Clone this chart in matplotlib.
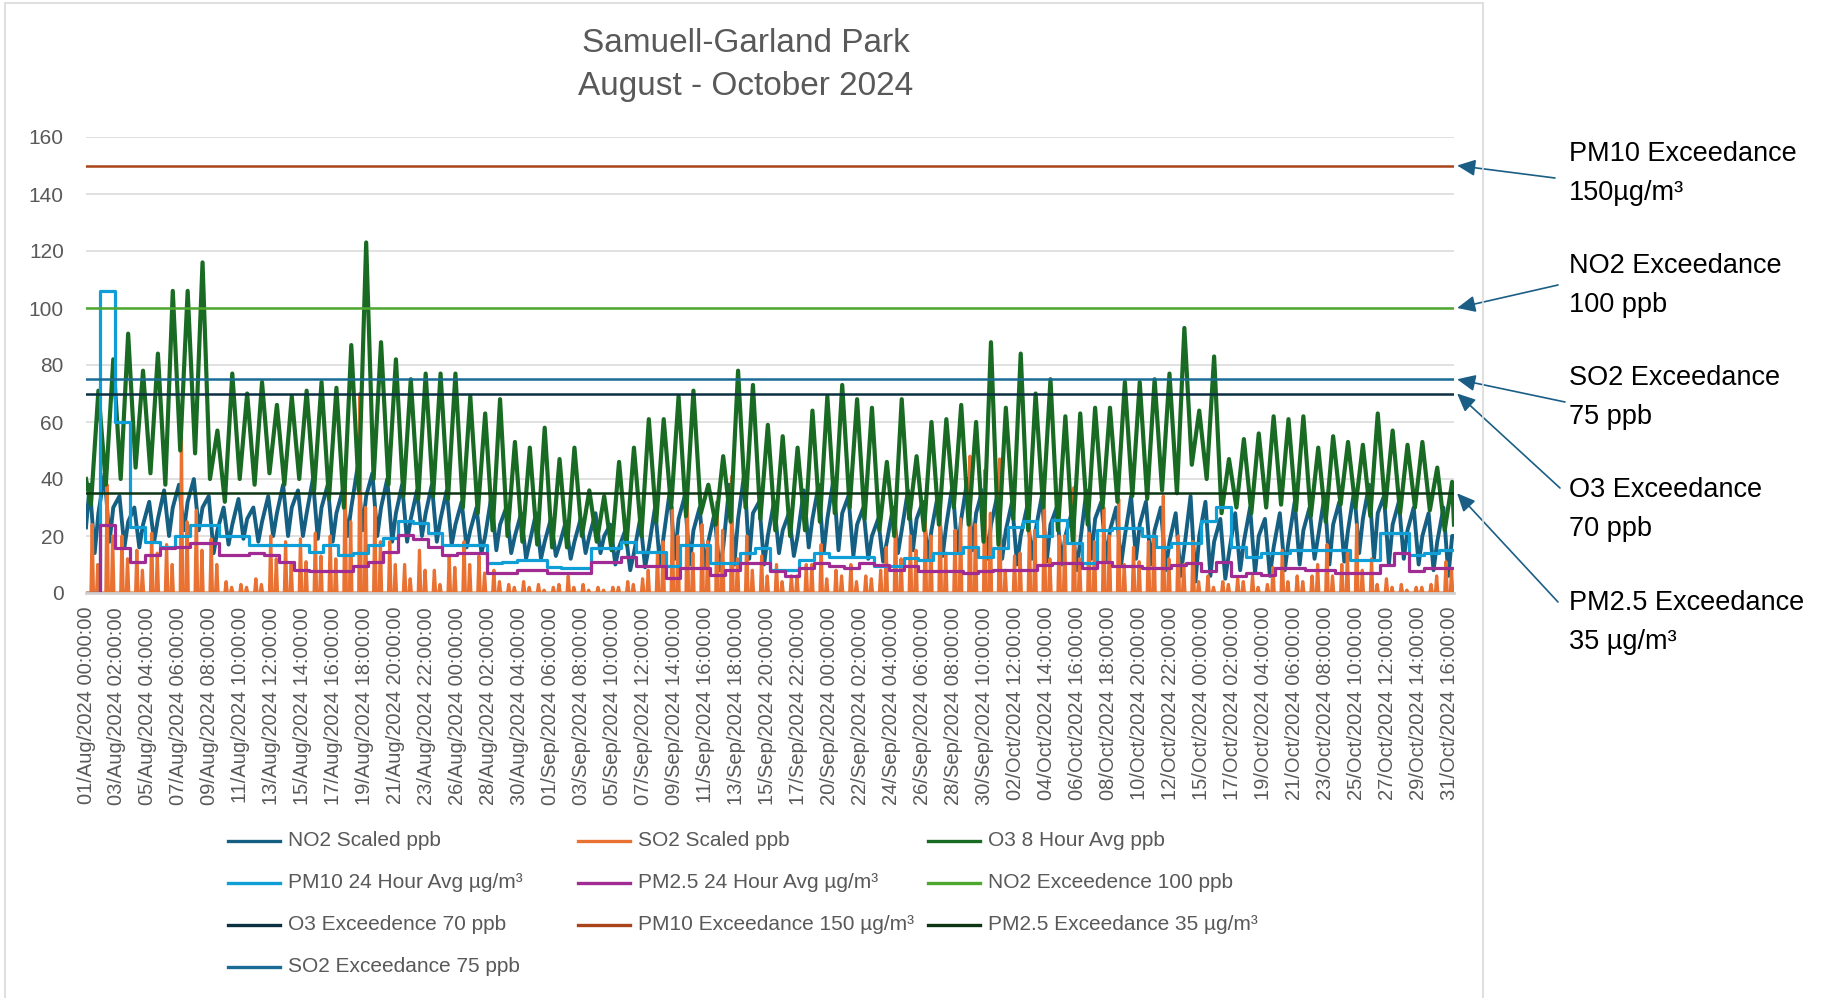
#Importing necessary libraries
import numpy as np
import pandas as pd
import matplotlib
matplotlib.use("Agg")
from matplotlib import pyplot as plt
from matplotlib.lines import Line2D
from matplotlib.patches import Rectangle

#Hourly timeline used by the category axis
times = pd.date_range("2024-08-01 00:00", "2024-10-31 23:00", freq="h")
hours = np.arange(len(times))
n_days = 92
tick_labels = list(times[::50].strftime("%d/%b/%Y %H:%M:%S"))

#O3 8 hour average, daily low (morning) and daily high (evening), ppb
o3_first = 40
o3_last = 24
o3_low = [31, 38, 40, 44, 42, 38, 50, 49, 40, 32,
          40, 38, 42, 38, 40, 36, 33, 30, 36, 40,
          38, 34, 33, 34, 33, 30, 28, 22, 20, 18,
          17, 16, 16, 20, 18, 15, 17, 20, 25, 30,
          27, 28, 24, 25, 30, 26, 22, 20, 22, 25,
          28, 30, 26, 22, 20, 26, 22, 24, 30, 24,
          18, 17, 26, 22, 30, 22, 18, 24, 30, 32,
          34, 33, 36, 35, 45, 40, 28, 30, 28, 30,
          31, 29, 27, 25, 31, 30, 27, 30, 28, 30,
          29, 22]
o3_high = [71, 82, 91, 78, 84, 106, 106, 116, 57, 77,
           70, 74, 66, 69, 71, 74, 72, 87, 123, 88,
           82, 75, 77, 77, 77, 69, 63, 68, 53, 51,
           58, 47, 51, 36, 34, 46, 51, 61, 61, 69,
           71, 38, 48, 78, 73, 59, 55, 51, 64, 69,
           73, 68, 65, 46, 68, 48, 60, 61, 66, 60,
           88, 65, 84, 70, 75, 62, 63, 65, 65, 74,
           74, 75, 77, 93, 64, 83, 47, 54, 56, 62,
           61, 62, 51, 55, 53, 52, 63, 57, 52, 53,
           44, 39]

#NO2 scaled, morning high, afternoon low and evening reading, ppb
no2_first = 23
no2_last = 20
no2_high = [38, 42, 34, 30, 32, 36, 38, 40, 34, 30,
            33, 30, 34, 38, 36, 40, 38, 36, 44, 42,
            40, 38, 36, 38, 36, 32, 30, 34, 30, 28,
            28, 26, 25, 26, 28, 24, 22, 26, 30, 36,
            34, 30, 28, 38, 42, 32, 32, 28, 36, 38,
            40, 34, 30, 26, 30, 36, 32, 34, 38, 40,
            36, 34, 32, 30, 34, 30, 28, 36, 32, 30,
            34, 32, 30, 28, 34, 32, 26, 28, 30, 26,
            28, 32, 30, 34, 32, 36, 38, 34, 32, 30,
            28, 30]
no2_low = [14, 18, 16, 16, 18, 20, 22, 22, 14, 17,
           19, 18, 20, 20, 20, 19, 18, 20, 22, 20,
           18, 18, 20, 18, 17, 16, 14, 15, 14, 12,
           12, 13, 12, 14, 14, 10, 8, 9, 10, 12,
           10, 9, 8, 10, 12, 10, 14, 13, 16, 14,
           15, 13, 12, 11, 14, 15, 12, 13, 14, 15,
           12, 12, 10, 12, 11, 10, 8, 12, 11, 10,
           12, 10, 8, 6, 4, 6, 5, 8, 7, 6,
           8, 10, 12, 10, 11, 14, 12, 10, 12, 10,
           8, 6]
no2_eve = [28, 30, 25, 24, 26, 30, 32, 30, 22, 24,
           26, 25, 28, 30, 28, 30, 28, 30, 34, 30,
           28, 26, 28, 26, 24, 22, 20, 24, 20, 18,
           18, 17, 18, 20, 20, 16, 14, 16, 20, 26,
           22, 18, 16, 26, 28, 20, 22, 20, 26, 26,
           28, 24, 20, 18, 22, 26, 22, 24, 26, 28,
           24, 22, 20, 22, 24, 20, 18, 26, 22, 20,
           24, 22, 18, 16, 20, 18, 14, 18, 20, 16,
           18, 22, 20, 24, 22, 26, 28, 24, 22, 20,
           18, 20]

#SO2 scaled, two spikes per day, ppb
so2_spike1 = [24, 38, 20, 15, 21, 17, 55, 29, 19, 4,
              3, 5, 20, 18, 19, 21, 20, 44, 70, 30,
              18, 10, 15, 8, 13, 18, 13, 8, 3, 4,
              3, 2, 6, 3, 2, 2, 4, 5, 14, 30,
              37, 24, 32, 41, 20, 13, 10, 6, 10, 17,
              8, 10, 6, 8, 29, 20, 25, 33, 22, 48,
              43, 47, 13, 22, 36, 20, 37, 21, 30, 33,
              16, 18, 34, 20, 18, 6, 4, 5, 6, 3,
              15, 6, 6, 17, 10, 24, 12, 5, 3, 2,
              3, 11]
so2_spike2 = [10, 20, 12, 8, 14, 10, 25, 15, 10, 2,
              2, 3, 12, 10, 11, 13, 12, 25, 30, 18,
              10, 5, 8, 3, 9, 10, 7, 4, 2, 2,
              1, 3, 2, 1, 1, 2, 3, 8, 18, 20,
              14, 18, 22, 12, 8, 6, 4, 6, 10, 5,
              6, 4, 5, 16, 12, 15, 20, 14, 26, 24,
              28, 8, 14, 22, 12, 20, 12, 18, 20, 10,
              11, 20, 12, 10, 4, 2, 3, 4, 2, 9,
              4, 4, 10, 6, 14, 8, 3, 2, 1, 2,
              6, 8]

#PM 24 hour averages, one value per day, ug/m3
pm10_day = [0, 106, 60, 23, 18, 16, 20, 24, 24, 20,
            20, 17, 17, 17, 17, 14.5, 16.9, 13.4, 13.9, 16.9,
            19.2, 25.1, 24.6, 21.1, 16.9, 16.9, 16.9, 10.4, 11, 11.6,
            11.6, 9, 8.7, 8.7, 15.7, 15.7, 18, 14.5, 14.5, 9.6,
            17, 17, 10.4, 10.4, 14, 15.7, 8.2, 8.2, 11.6, 13.9,
            12.8, 12.8, 12.8, 9.6, 9.6, 12.2, 11.6, 13.9, 13.9, 16.3,
            12.8, 15.7, 23.3, 25.1, 19.9, 25.7, 17.6, 10.4, 22.2, 22.8,
            22.8, 19.9, 16.3, 17.6, 17.6, 25.1, 30.3, 16.3, 12.8, 13.9,
            13.9, 15.1, 15.1, 15.1, 15.1, 11.6, 11.6, 21.1, 21.1, 13.4,
            13.9, 15.1]
pm25_day = [0, 23.9, 15.7, 11, 13.4, 15.7, 16.3, 17.6, 17.6, 13.4,
            13.4, 13.9, 13.4, 11, 8.2, 7.6, 7.6, 7.6, 9.4, 11,
            14.5, 20.4, 18.8, 16.3, 13.4, 13.9, 13.9, 7, 7, 8.2,
            8.2, 7, 7, 7, 11, 11, 12.8, 9.4, 9.4, 5.3,
            8.7, 8.7, 6.4, 8.2, 10.4, 10.4, 7.6, 5.9, 8.7, 10.4,
            9.4, 8.7, 10.4, 9.9, 8.2, 9.4, 7.6, 7.6, 7.6, 7,
            7.6, 8.2, 8.2, 8.2, 9.9, 10.4, 10.4, 8.7, 11, 9.4,
            9.4, 8.7, 8.7, 9.9, 10.4, 7.6, 11, 5.9, 7, 6.4,
            8.7, 8.7, 8.2, 8.2, 7, 7, 7, 9.9, 13.9, 7.6,
            8.7, 8.7]

#Exceedance levels
no2_limit = 100
o3_limit = 70
pm10_limit = 150
pm25_limit = 35
so2_limit = 75

W, H = 1830, 998
fig = plt.figure(figsize=(W / 100, H / 100), dpi=100)
plain = ["Liberation Sans", "DejaVu Sans"]

#Chart frame
fig.add_artist(Rectangle((5 / W, -0.02), (1483 - 5) / W, 1 - 3 / H + 0.02,
                         transform=fig.transFigure, fill=False,
                         edgecolor="#D9D9D9", lw=1.2))

ax = fig.add_axes([86 / W, 1 - 593 / H, (1454 - 86) / W, (593 - 137) / H])

#Building the plotted sequences from the daily readings
day_start = np.arange(n_days) * 24
o3_x = np.concatenate([[0], np.column_stack([day_start + 8, day_start + 20]).ravel(), [hours[-1]]])
o3_y = np.concatenate([[o3_first], np.column_stack([o3_low, o3_high]).ravel(), [o3_last]])
no2_x = np.concatenate([[0], np.column_stack([day_start + 6, day_start + 14, day_start + 20]).ravel(),
                        [hours[-1]]])
no2_y = np.concatenate([[no2_first], np.column_stack([no2_high, no2_low, no2_eve]).ravel(),
                        [no2_last]])
z = np.zeros(n_days)
so2_x = np.column_stack([day_start + 8, day_start + 10, day_start + 12,
                         day_start + 17, day_start + 19, day_start + 21]).ravel()
so2_y = np.column_stack([z, so2_spike1, z, z, so2_spike2, z]).ravel()
so2_x = np.concatenate([[0], so2_x, [hours[-1]]])
so2_y = np.concatenate([[0], so2_y, [0]])
step_x = np.concatenate([[0], day_start[1:] - 1, [hours[-1]]])
pm10_y = np.concatenate([pm10_day, [pm10_day[-1]]])
pm25_y = np.concatenate([pm25_day, [pm25_day[-1]]])
ends = hours[[0, -1]]

series = [
    ("NO2 Scaled ppb", "#156082", 2.8),
    ("SO2 Scaled ppb", "#E97132", 2.3),
    ("O3 8 Hour Avg ppb", "#196B24", 3.0),
    ("PM10 24 Hour Avg µg/m³", "#0F9ED5", 2.3),
    ("PM2.5 24 Hour Avg µg/m³", "#A02B93", 2.3),
    ("NO2 Exceedence 100 ppb", "#4EA72E", 1.8),
    ("O3 Exceedence 70 ppb", "#0B3041", 1.8),
    ("PM10 Exceedance 150 µg/m³", "#A9441A", 1.8),
    ("PM2.5 Exceedance 35 µg/m³", "#0D3512", 1.8),
    ("SO2 Exceedance 75 ppb", "#1A6B95", 1.8),
]

ax.plot(no2_x, no2_y, color=series[0][1], lw=series[0][2], solid_joinstyle="round")
ax.plot(so2_x, so2_y, color=series[1][1], lw=series[1][2], solid_joinstyle="round")
ax.plot(o3_x, o3_y, color=series[2][1], lw=series[2][2], solid_joinstyle="round")
ax.step(step_x, pm10_y, where="post", color=series[3][1], lw=series[3][2])
ax.step(step_x, pm25_y, where="post", color=series[4][1], lw=series[4][2])
limits = [no2_limit, o3_limit, pm10_limit, pm25_limit, so2_limit]
for (name, col, lw), lim in zip(series[5:], limits):
    ax.plot(ends, [lim, lim], color=col, lw=lw)

ax.set_xlim(0, hours[-1])
ax.set_ylim(0, 160)
ax.set_yticks(range(0, 161, 20))
ax.set_xticks(hours[::50])
ax.set_xticklabels(tick_labels, rotation=90, family=plain, fontsize=14.5, color="#595959")
for lab in ax.get_yticklabels():
    lab.set_family(plain)
    lab.set_fontsize(15)
    lab.set_color("#595959")
ax.tick_params(axis="both", length=0)
ax.tick_params(axis="y", pad=16)
ax.tick_params(axis="x", pad=10)
ax.yaxis.grid(True, color="#D9D9D9", lw=1.1)
ax.set_axisbelow(True)
for s in ["top", "right", "left"]:
    ax.spines[s].set_visible(False)
ax.spines["bottom"].set_color("#D0D0D0")
ax.spines["bottom"].set_linewidth(2)

#Title
fig.text(746 / W, 1 - 43 / H, "Samuell-Garland Park", ha="center", va="center",
         fontsize=24, color="#595959", family=plain)
fig.text(746 / W, 1 - 86 / H, "August - October 2024", ha="center", va="center",
         fontsize=24, color="#595959", family=plain)

#Legend, laid out row by row like the spreadsheet
col_x = [228, 578, 928]
row_y = [841, 883, 925, 967]
for i, (name, col, lw) in enumerate(series):
    x0 = col_x[i % 3]
    y0 = 1 - row_y[i // 3] / H
    fig.add_artist(Line2D([x0 / W, (x0 + 52) / W], [y0, y0], color=col, lw=2.4,
                          transform=fig.transFigure))
    fig.text((x0 + 60) / W, y0, name, ha="left", va="center", fontsize=15,
             color="#595959", family=plain)

#Callouts to the exceedance lines
callouts = [
    ("PM10 Exceedance", "150µg/m³", pm10_limit, 154, (1555, 178)),
    ("NO2 Exceedance", "100 ppb", no2_limit, 266, (1558, 285)),
    ("SO2 Exceedance", "75 ppb", so2_limit, 378, (1565, 402)),
    ("O3 Exceedance", "70 ppb", o3_limit, 490, (1560, 488)),
    ("PM2.5 Exceedance", "35 µg/m³", pm25_limit, 603, (1558, 602)),
]
for line1, line2, lim, ty, tail in callouts:
    fig.text(1569 / W, 1 - ty / H, line1, ha="left", va="center", fontsize=19.5,
             color="black", family=plain)
    fig.text(1569 / W, 1 - (ty + 39) / H, line2, ha="left", va="center", fontsize=19.5,
             color="black", family=plain)
    ax.annotate("", xy=(hours[-1] + 5, lim), xycoords="data",
                xytext=(tail[0], H - tail[1]), textcoords="figure pixels",
                annotation_clip=False,
                arrowprops=dict(arrowstyle="-|>,head_length=0.55,head_width=0.25",
                                color="#1B5E85", lw=1.2, mutation_scale=20,
                                shrinkA=0, shrinkB=0))

fig.savefig("out.png", dpi=100)
